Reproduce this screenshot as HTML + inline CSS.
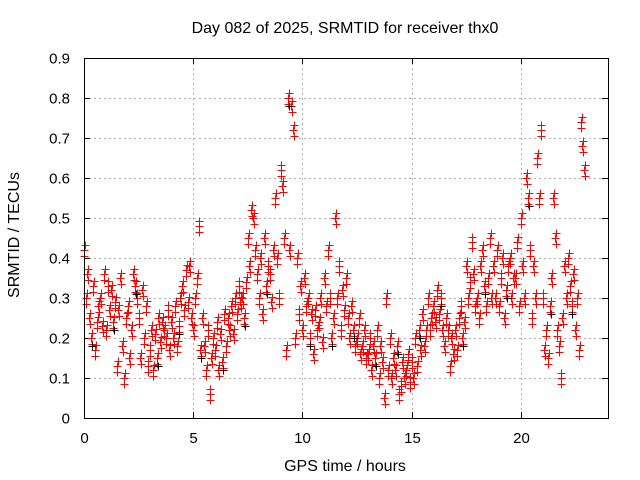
<!DOCTYPE html>
<html><head><meta charset="utf-8"><style>
body{margin:0;background:#fff}
svg{display:block;font-family:"Liberation Sans",sans-serif}
</style></head><body>
<svg id="chart" width="640" height="480">
<text x="345" y="33" font-size="16" text-anchor="middle" fill="#000">Day 082 of 2025, SRMTID for receiver thx0</text>
<text x="345" y="471" font-size="16" text-anchor="middle">GPS time / hours</text>
<text transform="translate(19,235) rotate(-90)" font-size="16" text-anchor="middle">SRMTID / TECUs</text>
<g id="grid"></g><g id="ticks"></g><g id="marks"></g>
<rect x="84.5" y="58.5" width="524" height="360" fill="none" stroke="#000" stroke-width="1"/>
</svg>
<script>
const xTicks=[0,5,10,15,20];
const yTicks=[0,0.1,0.2,0.3,0.4,0.5,0.6,0.7,0.8,0.9];
const yTickLabels=["0","0.1","0.2","0.3","0.4","0.5","0.6","0.7","0.8","0.9"];
const times=[0,0.25,0.5,0.75,1,1.25,1.5,1.75,2,2.25,2.5,2.75,3,3.25,3.5,3.75,4,4.25,4.5,4.75,5,5.25,5.5,5.75,6,6.25,6.5,6.75,7,7.25,7.5,7.75,8,8.25,8.5,8.75,9,9.25,9.5,9.75,10,10.25,10.5,10.75,11,11.25,11.5,11.75,12,12.25,12.5,12.75,13,13.25,13.5,13.75,14,14.25,14.5,14.75,15,15.25,15.5,15.75,16,16.25,16.5,16.75,17,17.25,17.5,17.75,18,18.25,18.5,18.75,19,19.25,19.5,19.75,20,20.25,20.5,20.75,21,21.25,21.5,21.75,22,22.25,22.5,22.75];
const seriesA=[.42,.25,.17,.30,.22,.32,.13,.18,.28,.36,.25,.20,.17,.21,.19,.20,.24,.18,.33,.29,.22,.48,.18,.06,.17,.21,.18,.28,.26,.30,.45,.50,.30,.45,.36,.55,.62,.17,.78,.40,.22,.30,.16,.24,.35,.30,.50,.22,.35,.28,.20,.18,.16,.18,.10,.05,.20,.12,.08,.12,.14,.13,.26,.30,.28,.26,.18,.13,.22,.28,.38,.44,.30,.42,.35,.38,.28,.25,.40,.35,.50,.60,.25,.65,.30,.15,.55,.18,.38,.33,.22,.74];
const seriesB=[.30,.20,.24,.23,.33,.24,.27,.10,.15,.33,.15,.28,.22,.15,.24,.27,.20,.23,.27,.38,.30,.17,.12,.15,.24,.14,.25,.21,.33,.25,.38,.42,.40,.33,.29,.40,.58,.80,.72,.26,.35,.20,.27,.30,.28,.20,.30,.32,.25,.22,.25,.22,.20,.15,.18,.30,.10,.18,.14,.16,.10,.22,.18,.22,.24,.30,.25,.20,.17,.20,.30,.36,.25,.33,.45,.30,.35,.32,.30,.44,.38,.55,.38,.55,.17,.28,.45,.10,.30,.28,.30,.68];
const seriesC=[.36,.33,.28,.36,.27,.29,.35,.25,.22,.30,.32,.13,.12,.25,.22,.17,.28,.30,.37,.25,.35,.25,.22,.20,.12,.26,.22,.30,.29,.34,.52,.36,.26,.38,.42,.30,.45,.42,.20,.33,.28,.26,.22,.19,.42,.25,.38,.27,.20,.18,.16,.15,.12,.22,.14,.12,.15,.06,.10,.09,.20,.17,.22,.25,.32,.22,.22,.16,.25,.24,.34,.28,.38,.28,.30,.42,.40,.38,.35,.28,.30,.42,.30,.72,.22,.35,.22,.25,.40,.36,.17,.62];
const NS="http://www.w3.org/2000/svg";
const X0=84,X1=608,Y0=418,Y1=58,XMAX=24,YMAX=0.9;
function xs(t){return X0+(X1-X0)*t/XMAX;}
function ys(v){return Y0-(Y0-Y1)*v/YMAX;}
const grid=document.getElementById('grid'),ticks=document.getElementById('ticks'),marks=document.getElementById('marks');
function mk(tag,attrs,parent){const e=document.createElementNS(NS,tag);for(const k in attrs)e.setAttribute(k,attrs[k]);parent.appendChild(e);return e;}
yTicks.forEach((v,i)=>{
 const y=Math.round(ys(v))+0.5;
 if(i>0&&i<yTicks.length-1){const g=mk('line',{x1:X0,x2:X1,y1:y,y2:y,stroke:'#b0b0b0','stroke-dasharray':'2,3','stroke-width':1},grid);
 
 }
 mk('line',{x1:X0,x2:X0+6,y1:y,y2:y,stroke:'#000'},ticks);
 mk('line',{x1:X1,x2:X1-6,y1:y,y2:y,stroke:'#000'},ticks);
 const t=mk('text',{x:X0-14,y:y+5,'font-size':15,'text-anchor':'end'},ticks);t.textContent=yTickLabels[i];
 
 
});
xTicks.forEach((v,i)=>{
 const x=Math.round(xs(v))+0.5;
 if(i>0){const g=mk('line',{x1:x,x2:x,y1:Y1,y2:Y0,stroke:'#b0b0b0','stroke-dasharray':'2,3','stroke-width':1},grid);
 
 }
 mk('line',{x1:x,x2:x,y1:Y0,y2:Y0-6,stroke:'#000'},ticks);
 mk('line',{x1:x,x2:x,y1:Y1,y2:Y1+6,stroke:'#000'},ticks);
 const t=mk('text',{x:x,y:443,'font-size':15,'text-anchor':'middle'},ticks);t.textContent=String(v);
 
 
});
function plus(t,v,color){
 const x=Math.round(xs(t))+0.5,y=Math.round(ys(v))+0.5;
 const p=mk('path',{d:`M${x-4},${y}H${x+4}M${x},${y-4}V${y+4}`,stroke:color,'stroke-width':1,fill:'none'},marks);
 
 
}
const sets=[[seriesA,0],[seriesB,0.08],[seriesC,0.16]];
sets.forEach(([s,off])=>{s.forEach((v,i)=>{
 plus(times[i]+off,v,'#ff0000');
 plus(times[i]+off+0.04,v+0.012,'#ff0000');
 plus(times[i]+off+0.02,v-0.015,'#ff0000');
});});
seriesB.forEach((v,i)=>{if(i%4===1)plus(times[i]+0.12,v-0.02,'#000');});
</script>
</body></html>
